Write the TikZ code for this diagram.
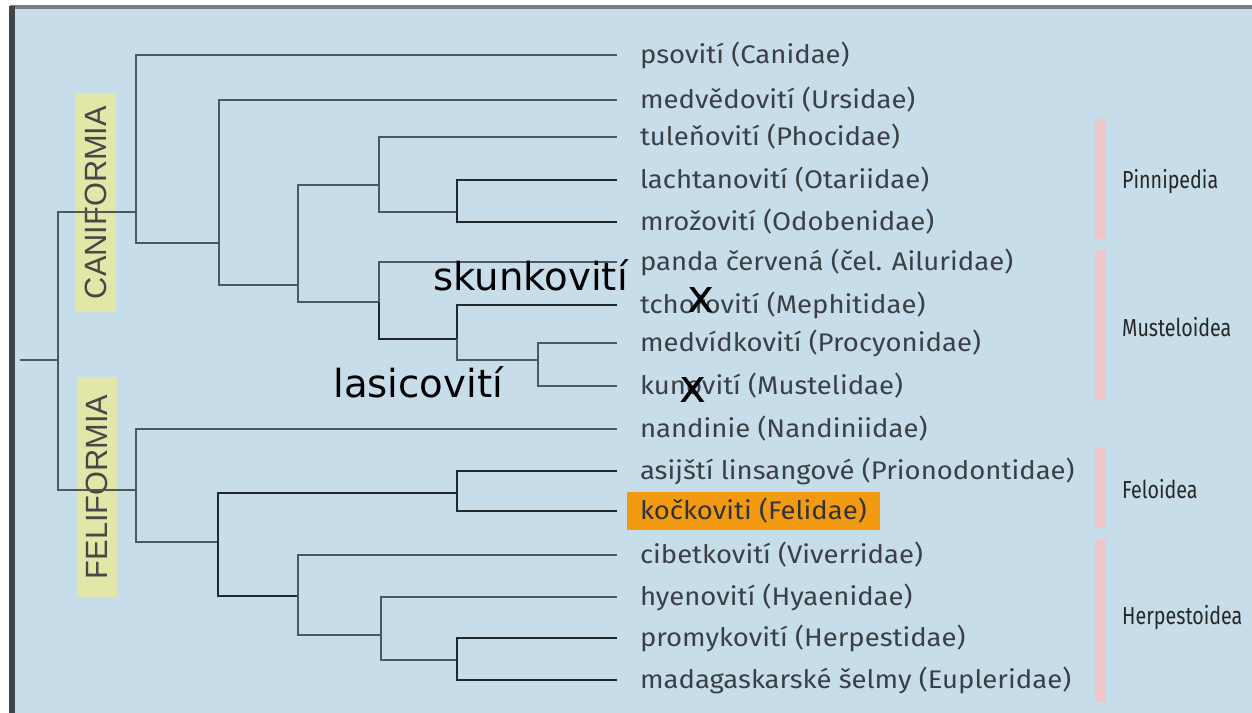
\documentclass[tikz,border=0pt]{standalone}
\usepackage{fontspec}
\setmainfont[FakeStretch=1.08]{Fira Sans}
\newfontfamily\groupfont[FakeStretch=0.8]{Fira Sans}
\newfontfamily\cladefont{Liberation Sans}
\newfontfamily\handfont{DejaVu Sans}
\definecolor{panel}{HTML}{C7DEEA}
\definecolor{frameline}{HTML}{3E454B}
\definecolor{twig}{HTML}{4E5860}
\definecolor{twigdark}{HTML}{22272C}
\definecolor{leaftext}{HTML}{3A4046}
\definecolor{cladebg}{HTML}{E2E6A6}
\definecolor{groupbar}{HTML}{F1C6C9}
\definecolor{catbg}{HTML}{F29A12}

\begin{document}
\begin{tikzpicture}[
  x=0.02cm, y=-0.02cm,
  leaf/.style={anchor=west, inner xsep=0pt, outer xsep=0.46cm, inner ysep=0pt,
               text height=2.2ex, text depth=0.45ex, text=leaftext,
               font=\fontsize{14.5}{16}\selectfont},
  branch/.style={draw=#1, line width=1.6pt},
  branch/.default=twig,
  clade/.style={rotate=90, fill=cladebg, text=black!72, inner sep=0pt,
                minimum height=0.82cm, font=\cladefont\fontsize{17.5}{18}\selectfont},
  group/.style={anchor=west, text=black!85, font=\groupfont\fontsize{14}{16}\selectfont},
  hand/.style={anchor=base west, inner sep=0pt, font=\handfont\fontsize{22}{24}\selectfont},
  cross/.style={font=\handfont\fontsize{26}{26}\selectfont, inner sep=0pt}
]
  \useasboundingbox (0,0) rectangle (1252,713);

  %-- Fond
  \fill[panel] (12,7) rectangle (1252,713);
  \draw[frameline!70, line width=2.2pt] (10,7) -- (1252,7);
  \draw[frameline, line width=3pt] (12,6) -- (12,713);

  %-- Skupiny
  \node[clade, minimum width=4.38cm] (caniformia) at (95.5,202.5) {CANIFORMIA};
  \node[clade, minimum width=4.40cm] (feliformia) at (97,487)     {FELIFORMIA};

  \fill[groupbar] (1095,119) rectangle (1106,239);
  \fill[groupbar] (1095,250) rectangle (1106,400);
  \fill[groupbar] (1095,448) rectangle (1106,528);
  \fill[groupbar] (1095,540) rectangle (1106,702);
  \node[group] (pinnipedia)   at (1116,182) {Pinnipedia};
  \node[group] (musteloidea)  at (1116,327) {Musteloidea};
  \node[group] (feloidea)     at (1116,489) {Feloidea};
  \node[group] (herpestoidea) at (1116,618) {Herpestoidea};

  %-- Čeledi
  \node[leaf] (canid)        at (617, 55)  {psovití (Canidae)};
  \node[leaf] (ursid)        at (617,100)  {medvědovití (Ursidae)};
  \node[leaf] (phocid)       at (617,137)  {tuleňovití (Phocidae)};
  \node[leaf] (otariid)      at (617,180)  {lachtanovití (Otariidae)};
  \node[leaf] (odobenid)     at (617,222)  {mrožovití (Odobenidae)};
  \node[leaf] (ailurid)      at (617,262)  {panda červená (čel. Ailuridae)};
  \node[leaf] (mephitid)     at (617,305)  {tchořovití (Mephitidae)};
  \node[leaf] (procyonid)    at (617,343)  {medvídkovití (Procyonidae)};
  \node[leaf] (mustelid)     at (617,386)  {kunovití (Mustelidae)};
  \node[leaf] (nandiniid)    at (617,429)  {nandinie (Nandiniidae)};
  \node[leaf] (prionodontid) at (617,471)  {asijští linsangové (Prionodontidae)};
  \node[leaf, fill=catbg, inner xsep=0.26cm, outer xsep=0.2cm, minimum height=0.78cm,
        text=black!80] (felid) at (617,511) {kočkoviti (Felidae)};
  \node[leaf] (viverrid)     at (617,555)  {cibetkovití (Viverridae)};
  \node[leaf] (hyaenid)      at (617,597)  {hyenovití (Hyaenidae)};
  \node[leaf] (herpestid)    at (617,638)  {promykovití (Herpestidae)};
  \node[leaf] (euplerid)     at (617,680)  {madagaskarské šelmy (Eupleridae)};

  %-- Uzly
  \coordinate (base)     at (20,360);
  \coordinate (root)     at (58,360);
  \coordinate (cani)     at (136,212);
  \coordinate (arcto)    at (219,243);
  \coordinate (pinnmust) at (298,285);
  \coordinate (pinn)     at (379,185);
  \coordinate (otario)   at (457,212);
  \coordinate (must)     at (379,302);
  \coordinate (mustpro)  at (457,339);
  \coordinate (mustel)   at (538,360);
  \coordinate (feli)     at (136,490);
  \coordinate (felherp)  at (218,542);
  \coordinate (felo)     at (457,493);
  \coordinate (herp)     at (298,596);
  \coordinate (hyherp)   at (381,635);
  \coordinate (herpeup)  at (457,660);

  %-- Větve
  \draw[branch] (base) -- (root);
  \draw[branch] (root) |- (cani);
  \draw[branch] (root) |- (feli);
  \draw[branch] (cani) |- (canid.west);
  \draw[branch] (cani) |- (arcto);
  \draw[branch] (arcto) |- (ursid.west);
  \draw[branch] (arcto) |- (pinnmust);
  \draw[branch] (pinnmust) |- (pinn);
  \draw[branch] (pinnmust) |- (must);
  \draw[branch] (pinn) |- (phocid.west);
  \draw[branch] (pinn) |- (otario);
  \draw[branch=twigdark] (otario) |- (otariid.west);
  \draw[branch=twigdark] (otario) |- (odobenid.west);
  \draw[branch] (must) |- (ailurid.west);
  \draw[branch=twigdark] (must) |- (mustpro);
  \draw[branch=twigdark] (mustpro) |- (mephitid.west);
  \draw[branch] (mustpro) |- (mustel);
  \draw[branch] (mustel) |- (procyonid.west);
  \draw[branch] (mustel) |- (mustelid.west);
  \draw[branch] (feli) |- (nandiniid.west);
  \draw[branch] (feli) |- (felherp);
  \draw[branch=twigdark] (felherp) |- (felo);
  \draw[branch=twigdark] (felherp) |- (herp);
  \draw[branch=twigdark] (felo) |- (prionodontid.west);
  \draw[branch=twigdark] (felo) |- (felid.west);
  \draw[branch] (herp) |- (viverrid.west);
  \draw[branch] (herp) |- (hyherp);
  \draw[branch] (hyherp) |- (hyaenid.west);
  \draw[branch] (hyherp) |- (herpeup);
  \draw[branch=twigdark] (herpeup) |- (herpestid.west);
  \draw[branch=twigdark] (herpeup) |- (euplerid.west);

  %-- Poznámky
  \node[hand] (skunk)  at (433,290) {skunkovití};
  \node[hand] (lasice) at (333,397) {lasicovití};
  \node[cross] (xmeph) at (701,300) {x};
  \node[cross] (xmust) at (693,390) {x};
\end{tikzpicture}
\end{document}
